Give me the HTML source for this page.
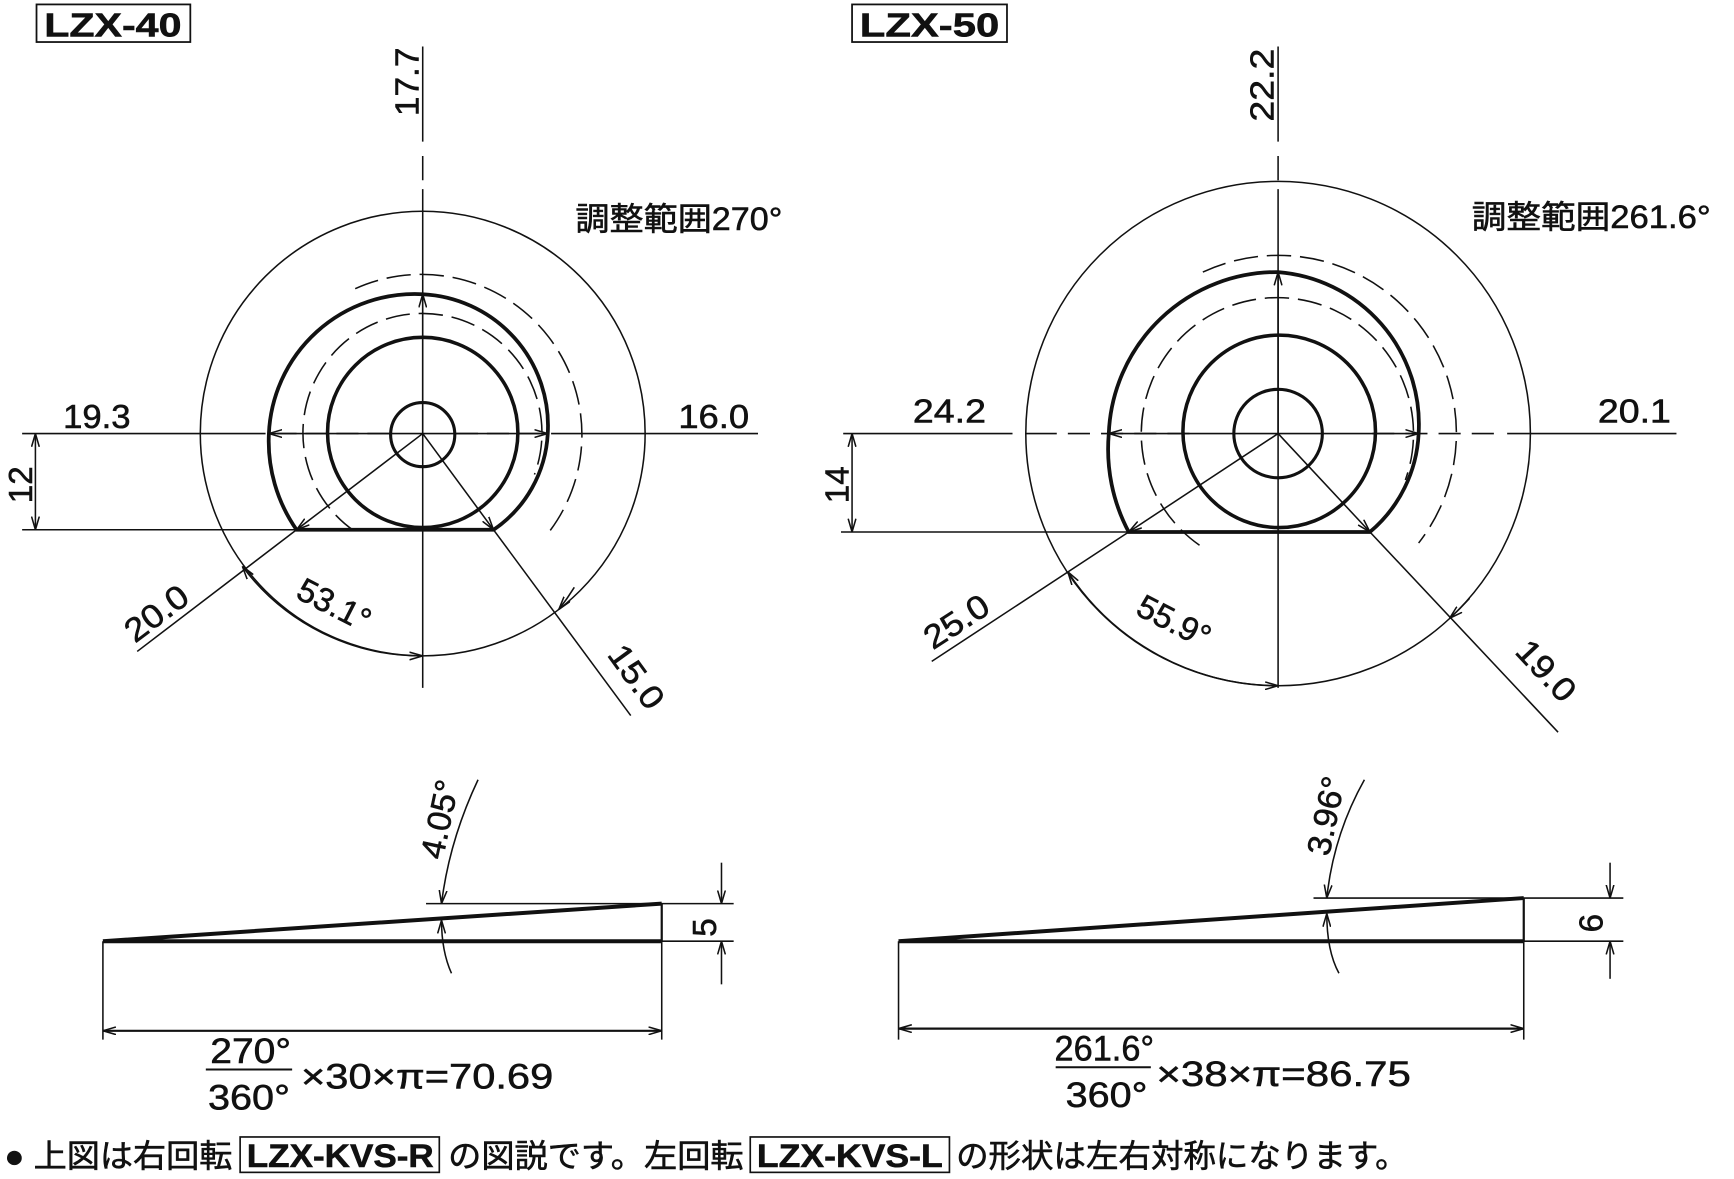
<!DOCTYPE html>
<html><head><meta charset="utf-8"><style>
html,body{margin:0;padding:0;background:#fff;}
svg{display:block;}
text{font-family:"Liberation Sans","Noto Sans CJK JP",sans-serif;fill:#111;}
</style></head><body>
<svg width="1734" height="1179" viewBox="0 0 1567 1066" preserveAspectRatio="none" xmlns="http://www.w3.org/2000/svg">
<defs>
<marker id="a" viewBox="0 0 12 8" refX="12" refY="4" markerWidth="12" markerHeight="8" markerUnits="userSpaceOnUse" orient="auto-start-reverse">
<path d="M0,0.5 L12,4 L0,7.5" fill="none" stroke="#111" stroke-width="1.4"/>
</marker>
</defs>
<g stroke="#111" fill="none" stroke-width="1.4">

<!-- ===== LZX-40 ===== -->
<rect x="33" y="4" width="139" height="34" stroke-width="1.6"/>
<path d="M382,42 V128 M382,141 V163 M382,171 V622"/>
<path d="M20,392 H240 M250,392 H268 M276,392 H296 M304,392 H324 M332,392 H352 M412,392 H432 M440,392 H460 M468,392 H488 M498,392 H685"/>
<circle cx="382" cy="392" r="201"/>
<path d="M321,261 A145,145 0 0 1 493,485" stroke-dasharray="22,8"/>
<path d="M320,480 A108,108 0 1 1 483,429" stroke-dasharray="22,8"/>
<path d="M268,479 A140,140 0 0 1 243,392 A132,132 0 0 1 382,266 A119,119 0 0 1 495,392 A112,112 0 0 1 446,479 Z" stroke-width="3.4"/>
<circle cx="382" cy="391" r="86" stroke-width="3.2"/>
<circle cx="382" cy="393" r="29" stroke-width="2.8"/>
<path d="M382,392 H243" marker-end="url(#a)"/>
<path d="M382,392 H495" marker-end="url(#a)"/>
<path d="M382,392 V266" marker-end="url(#a)"/>
<path d="M382,392 L268,479" marker-end="url(#a)"/>
<path d="M268,479 L124,589"/>
<path d="M382,392 L446,479" marker-end="url(#a)"/>
<path d="M446,479 L570,647"/>
<path d="M20,479 H268"/>
<path d="M32,392 V479" marker-start="url(#a)" marker-end="url(#a)"/>
<path d="M219,512 A201,201 0 0 0 382,593" marker-start="url(#a)" marker-end="url(#a)"/>
<path d="M519,531 A201,201 0 0 1 505,551" marker-end="url(#a)"/>

<!-- ===== LZX-50 ===== -->
<rect x="770" y="4" width="140" height="34" stroke-width="1.6"/>
<path d="M1155,42 V128 M1155,141 V163 M1155,171 V622"/>
<path d="M762,392 H915 M927,392 H955 M965,392 H985 M995,392 H1015 M1025,392 H1045 M1055,392 H1075 M1240,392 H1260 M1270,392 H1290 M1300,392 H1320 M1330,392 H1350 M1362,392 H1515"/>
<circle cx="1155" cy="392" r="228"/>
<path d="M1087,246 A161,161 0 0 1 1282,491" stroke-dasharray="22,8"/>
<path d="M1084,493 A123,123 0 1 1 1270,434" stroke-dasharray="22,8"/>
<path d="M1020,481 A160,160 0 0 1 1002,392 A152,152 0 0 1 1155,246 A138,138 0 0 1 1282,392 A124,124 0 0 1 1238,481 Z" stroke-width="3.4"/>
<circle cx="1156" cy="390" r="87" stroke-width="3.2"/>
<circle cx="1155" cy="392" r="40" stroke-width="2.8"/>
<path d="M1155,392 H1002" marker-end="url(#a)"/>
<path d="M1155,392 H1282" marker-end="url(#a)"/>
<path d="M1155,392 V246" marker-end="url(#a)"/>
<path d="M1155,392 L1020,481" marker-end="url(#a)"/>
<path d="M1020,481 L842,598"/>
<path d="M1155,392 L1238,481" marker-end="url(#a)"/>
<path d="M1238,481 L1408,662"/>
<path d="M760,481 H1020"/>
<path d="M770,392 V481" marker-start="url(#a)" marker-end="url(#a)"/>
<path d="M965,517 A228,228 0 0 0 1155,620" marker-start="url(#a)" marker-end="url(#a)"/>
<path d="M1328,541 A228,228 0 0 1 1310,559" marker-end="url(#a)"/>

<!-- ===== wedge left ===== -->
<path d="M93,851 H598 M93,851 L598,817" stroke-width="3.6"/>
<path d="M598,817 V851" stroke-width="2"/>
<path d="M385,817 H663 M598,851 H663"/>
<path d="M652,780 V817" marker-end="url(#a)"/>
<path d="M652,890 V851" marker-end="url(#a)"/>
<path d="M432,705 Q406,760 399,817" marker-end="url(#a)"/>
<path d="M408,880 Q399,860 399,832" marker-end="url(#a)"/>
<path d="M93,851 V940 M598,851 V940"/>
<path d="M93,932 H598" marker-start="url(#a)" marker-end="url(#a)" stroke-width="2"/>
<path d="M186,967 H264" stroke-width="1.8"/>

<!-- ===== wedge right ===== -->
<path d="M812,851 H1377 M812,851 L1377,812" stroke-width="3.6"/>
<path d="M1377,812 V851" stroke-width="2"/>
<path d="M1187,812 H1467 M1377,851 H1467"/>
<path d="M1455,780 V812" marker-end="url(#a)"/>
<path d="M1455,885 V851" marker-end="url(#a)"/>
<path d="M1233,705 Q1205,755 1199,812" marker-end="url(#a)"/>
<path d="M1210,880 Q1199,860 1199,826" marker-end="url(#a)"/>
<path d="M812,851 V940 M1377,851 V940"/>
<path d="M812,930 H1377" marker-start="url(#a)" marker-end="url(#a)" stroke-width="2"/>
<path d="M954,965 H1040" stroke-width="1.8"/>

<rect x="217" y="1028" width="180" height="32" stroke-width="1.5"/>
<rect x="678" y="1028" width="180" height="32" stroke-width="1.5"/>
</g>

<g font-size="30" stroke="#111" stroke-width="0.5">
<text x="40" y="33" font-weight="bold" font-size="30" textLength="124" lengthAdjust="spacingAndGlyphs">LZX-40</text>
<text x="777" y="33" font-weight="bold" font-size="30" textLength="126" lengthAdjust="spacingAndGlyphs">LZX-50</text>

<text x="520" y="208" font-size="29" textLength="187" lengthAdjust="spacingAndGlyphs">調整範囲270°</text>
<text x="1330" y="206" font-size="29" textLength="216" lengthAdjust="spacingAndGlyphs">調整範囲261.6°</text>

<text x="57" y="387" textLength="61" lengthAdjust="spacingAndGlyphs">19.3</text>
<text x="613" y="387" textLength="64" lengthAdjust="spacingAndGlyphs">16.0</text>
<text transform="translate(378,105) rotate(-90)" textLength="62" lengthAdjust="spacingAndGlyphs">17.7</text>
<text transform="translate(29,455) rotate(-90)">12</text>
<text transform="translate(122,582) rotate(-37)" textLength="64" lengthAdjust="spacingAndGlyphs">20.0</text>
<text transform="translate(266,540) rotate(27)">53.1°</text>
<text transform="translate(548,592) rotate(54)" textLength="64" lengthAdjust="spacingAndGlyphs">15.0</text>

<text x="825" y="382" textLength="66" lengthAdjust="spacingAndGlyphs">24.2</text>
<text x="1444" y="382" textLength="66" lengthAdjust="spacingAndGlyphs">20.1</text>
<text transform="translate(1151,110) rotate(-90)" textLength="66" lengthAdjust="spacingAndGlyphs">22.2</text>
<text transform="translate(767,455) rotate(-90)">14</text>
<text transform="translate(843,588) rotate(-33)" textLength="64" lengthAdjust="spacingAndGlyphs">25.0</text>
<text transform="translate(1025,555) rotate(27)">55.9°</text>
<text transform="translate(1368,590) rotate(47)" textLength="64" lengthAdjust="spacingAndGlyphs">19.0</text>

<text transform="translate(647,847) rotate(-90)">5</text>
<text transform="translate(1448,843) rotate(-90)">6</text>
<text transform="translate(400,778) rotate(-78)" textLength="72" lengthAdjust="spacingAndGlyphs">4.05°</text>
<text transform="translate(1201,775) rotate(-78)" textLength="72" lengthAdjust="spacingAndGlyphs">3.96°</text>

<text x="190" y="961" font-size="32" textLength="73" lengthAdjust="spacingAndGlyphs">270°</text>
<text x="188" y="1003" font-size="32" textLength="74" lengthAdjust="spacingAndGlyphs">360°</text>
<text x="272" y="984" font-size="32" textLength="228" lengthAdjust="spacingAndGlyphs">×30×π=70.69</text>
<text x="953" y="959" font-size="32" textLength="90" lengthAdjust="spacingAndGlyphs">261.6°</text>
<text x="963" y="1001" font-size="32" textLength="74" lengthAdjust="spacingAndGlyphs">360°</text>
<text x="1045" y="982" font-size="32" textLength="230" lengthAdjust="spacingAndGlyphs">×38×π=86.75</text>

<text x="4" y="1055" font-size="29" textLength="206" lengthAdjust="spacingAndGlyphs">● 上図は右回転</text>
<text x="223" y="1055" font-size="29" font-weight="bold" textLength="169" lengthAdjust="spacingAndGlyphs">LZX-KVS-R</text>
<text x="405" y="1055" font-size="29" textLength="267" lengthAdjust="spacingAndGlyphs">の図説です。左回転</text>
<text x="684" y="1055" font-size="29" font-weight="bold" textLength="168" lengthAdjust="spacingAndGlyphs">LZX-KVS-L</text>
<text x="864" y="1055" font-size="29" textLength="408" lengthAdjust="spacingAndGlyphs">の形状は左右対称になります。</text>
</g>
</svg>
</body></html>
